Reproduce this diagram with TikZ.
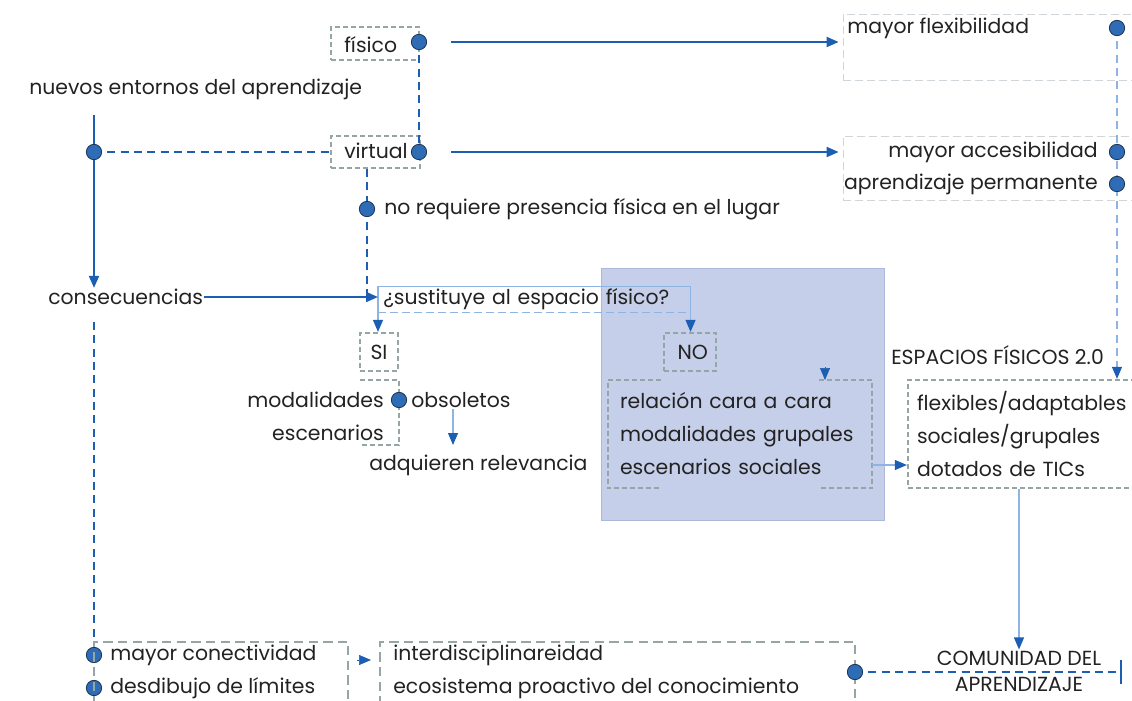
\documentclass[tikz,border=0pt]{standalone}
\usepackage{fontspec}
\setmainfont{Poppins}
\usetikzlibrary{arrows.meta}
\definecolor{blueline}{RGB}{28,94,178}
\definecolor{dotfill}{RGB}{46,108,182}
\definecolor{dotedge}{RGB}{30,52,86}
\definecolor{boxgray}{RGB}{150,166,167}
\definecolor{lightgray}{RGB}{208,213,217}
\definecolor{thinblue}{RGB}{141,180,226}
\definecolor{shade}{RGB}{198,207,233}
\definecolor{shadeedge}{RGB}{172,184,219}
\definecolor{textdark}{RGB}{34,34,34}

\begin{document}
\begin{tikzpicture}[x=0.75pt,y=0.75pt,yscale=-1,xscale=1,
  every node/.style={font=\fontsize{15.3}{24.75}\selectfont, text=textdark, inner sep=0.75pt},
  dot/.style={circle, fill=dotfill, draw=dotedge, line width=0.6pt, inner sep=0pt, minimum size=11.5pt},
  gbox/.style={draw=boxgray, line width=1.7pt, dash pattern=on 3.75pt off 2.25pt},
  gline/.style={boxgray, line width=1.7pt, dash pattern=on 3.75pt off 2.25pt},
  glong/.style={boxgray, line width=1.7pt, dash pattern=on 7pt off 4pt},
  lbox/.style={draw=lightgray, line width=0.6pt, dash pattern=on 6pt off 3pt},
  barrow/.style={blueline, line width=1.5pt, -{Triangle[length=9pt,width=7.5pt]}},
  bdash/.style={blueline, line width=1.5pt, dash pattern=on 6pt off 4pt},
  tarrow/.style={thinblue, line width=0.8pt, -{Triangle[length=9pt,width=7.5pt,color=blueline]}},
  tiponly/.style={blueline, line width=0.4pt, -{Triangle[length=9pt,width=7.5pt]}}]

\useasboundingbox (0,0) rectangle (1132,700);

%Shape: shaded block behind the NO branch
\draw [shadeedge, fill=shade, line width=0.6pt] (601,268) rectangle (884,520);

%Shape: boxes
\node [gbox, minimum width=66pt, minimum height=24.75pt] (fisico) at (375,43.5) {};
\node [gbox, minimum width=66.75pt, minimum height=24pt] (virtual) at (375.5,152) {};
\node [lbox, minimum width=222.75pt, minimum height=49.5pt] (boxA) at (991.5,47) {};
\node [lbox, minimum width=222.75pt, minimum height=48pt] (boxB) at (991.5,168) {};
\node [gbox, minimum width=28.5pt, minimum height=28.5pt] (si) at (379,352) {SI};
\node [gbox, minimum width=39pt, minimum height=28.5pt] (no) at (690,352) {\ NO};
\node [gbox, minimum width=174pt, minimum height=81pt, inner xsep=6.75pt, text width=160.5pt, align=left] (fbox) at (1024,434)
  {flexibles/adaptables\\sociales/grupales\\dotados de TICs};
\node [minimum width=198pt, minimum height=81pt, inner xsep=9pt, text width=180pt, align=left] (nobox) at (740,434)
  {relación cara a cara\\modalidades grupales\\escenarios sociales};
\draw [gline] ([xshift=39.75pt]nobox.north west) -- (nobox.north west) -- (nobox.south west) -- ([xshift=39.75pt]nobox.south west);
\draw [gline] ([xshift=-39.75pt]nobox.north east) -- (nobox.north east) -- (nobox.south east) -- ([xshift=-39.75pt]nobox.south east);
\node [minimum width=190.5pt, minimum height=58.5pt] (conbox) at (221,681) {};
\node [minimum width=356.25pt, minimum height=58.5pt] (ecobox) at (617.5,681) {};
\draw [glong] (ecobox.south west) -- (ecobox.north west) -- (ecobox.north east) -- (ecobox.south east);
%Shape: bracket round the SI branch
\draw [gline] (360,380) -- (399,380) -- (399,445) -- (360,445);

% Question box
\node [anchor=west, inner xsep=3.75pt, text width=226.5pt, minimum height=18.75pt] (sust) at (378,299.5) {¿sustituye al espacio físico?};
\draw [thinblue, line width=0.8pt] (sust.south west) |- (sust.north east) -- (sust.south east);
\draw [thinblue, line width=0.8pt, dash pattern=on 6pt off 3pt] (sust.south west) -- (sust.south east);

% Text Node
\node [anchor=west] (nuevos) at (28,89) {nuevos entornos del aprendizaje};
\node [anchor=west] (conse) at (47,297) {consecuencias};
\node [anchor=west] (fisicot) at (343,45) {físico};
\node [anchor=west] (virtualt) at (343,151) {virtual};
\node [anchor=west] (norq) at (383,209) {no requiere presencia física en el lugar};
\node [anchor=west] (flext) at (846,28) {mayor flexibilidad};
\node [anchor=east] (accet) at (1099,152) {mayor accesibilidad};
\node [anchor=east] (permt) at (1099,184) {aprendizaje permanente};
\node [anchor=east] (modal) at (385,400) {modalidades};
\node [anchor=west] (obsol) at (410,400) {obsoletos};
\node [anchor=east] (escen) at (385,433) {escenarios};
\node [anchor=west] (adq) at (368,465) {adquieren relevancia};
\node [anchor=west] (espa) at (890,355) {ESPACIOS FÍSICOS 2.0};
\node [align=center, font=\fontsize{15.3}{19.5}\selectfont] (comu) at (1019,671) {COMUNIDAD DEL\\APRENDIZAJE};
\node [anchor=west] (conec) at (109,655) {mayor conectividad};
\node [anchor=west] (desd) at (109,688) {desdibujo de límites};
\node [anchor=west] (inter) at (392,655) {interdisciplinareidad};
\node [anchor=west] (ecos) at (392,688) {ecosistema proactivo del conocimiento};

\coordinate (top) at (94,115);
\coordinate (rel) at (453,445);
\coordinate (endc) at (1122,672);

% Connectors
\draw [barrow] (top) -- (top |- conse.north);
\draw [bdash] (94,152) -- (virtual.west);
\draw [bdash] (419,42) -- (419,152);
\draw [bdash] (virtual.south -| 367,0) -- (367,297);
\draw [barrow] (conse.east) -- (sust.west |- conse.east);
\draw [barrow, shorten <=24pt, shorten >=3pt] (419,42) -- (419,42 -| boxA.west);
\draw [barrow, shorten <=24pt, shorten >=3pt] (419,152) -- (419,152 -| boxB.west);
\draw [thinblue, line width=0.8pt, dash pattern=on 6pt off 4pt, -{Triangle[length=9pt,width=7.5pt,color=blueline]}] (1117,28) -- (1117,0 |- fbox.north);
\draw [tarrow] (sust.south west) -- (sust.south west |- si.north);
\draw [tarrow] (sust.south east) -- (sust.south east |- no.north);
\draw [tarrow] (rel |- obsol.south) -- (rel);
\draw [tarrow] (nobox.east |- 0,465) -- (fbox.west |- 0,465);
\draw [tarrow] (fbox.south -| comu.north) -- (comu.north);
\draw [tiponly] (825,367) -- (825,380);
\draw [tiponly] (357,660) -- (371,660);
\draw [bdash, shorten <=12pt] (conse.south -| top) -- (top |- conbox.north);
\draw [bdash, -{Bar[width=18pt]}] (855,672) -- (endc);

%Shape: Circle
\node [dot] (d0) at (94,152) {};
\node [dot] (f1) at (419,42) {};
\node [dot] (v1) at (419,152) {};
\node [dot] (n1) at (367,209) {};
\node [dot] (a1) at (1117,28) {};
\node [dot] (a2) at (1117,152) {};
\node [dot] (a3) at (1117,184) {};
\node [dot] (od) at (399,400) {};
\node [dot] (m1) at (94,655) {};
\node [dot] (m2) at (94,688) {};
\node [dot] (c1) at (855,672) {};

% left box edge runs over its dots
\draw [glong] (conbox.south west) -- (conbox.north west) -- (conbox.north east) -- (conbox.south east);

\end{tikzpicture}
\end{document}
